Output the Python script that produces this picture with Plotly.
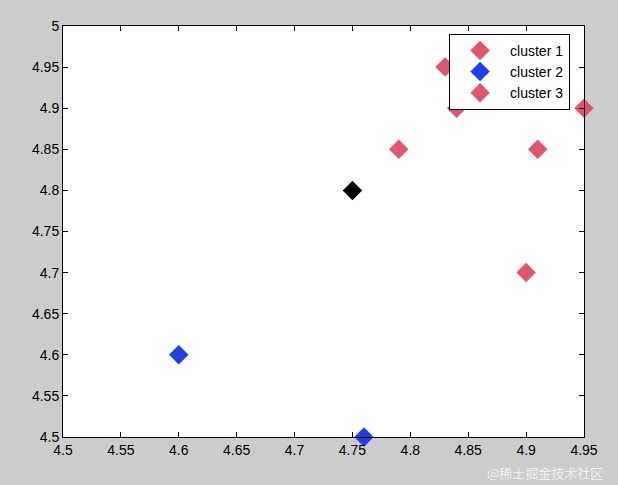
import plotly.graph_objects as go

# data
c1_x = [4.83, 4.84, 4.79]
c1_y = [4.95, 4.90, 4.85]
c2_x = [4.60, 4.76]
c2_y = [4.60, 4.50]
c3_x = [4.91, 4.90, 4.95]
c3_y = [4.85, 4.70, 4.90]
center_x = [4.75]
center_y = [4.80]
x_ticks = [4.5, 4.55, 4.6, 4.65, 4.7, 4.75, 4.8, 4.85, 4.9, 4.95]
y_ticks = [4.5, 4.55, 4.6, 4.65, 4.7, 4.75, 4.8, 4.85, 4.9, 4.95, 5]

pink = "#E0556F"
blue = "#1F3FE8"

def mk(color):
    return dict(symbol="diamond", size=15, color=color, line=dict(width=0))

fig = go.Figure()
fig.add_trace(go.Scatter(x=c1_x, y=c1_y, mode="markers", name="cluster 1", marker=mk(pink), cliponaxis=False))
fig.add_trace(go.Scatter(x=c2_x, y=c2_y, mode="markers", name="cluster 2", marker=mk(blue), cliponaxis=False))
fig.add_trace(go.Scatter(x=c3_x, y=c3_y, mode="markers", name="cluster 3", marker=mk(pink), cliponaxis=False))
fig.add_trace(go.Scatter(x=center_x, y=center_y, mode="markers", name="center", marker=mk("black"),
                         showlegend=False, cliponaxis=False))

axis_common = dict(showgrid=False, zeroline=False, showline=True, linecolor="black", linewidth=1,
                   mirror="ticks", ticks="inside", ticklen=5, tickcolor="black",
                   tickfont=dict(family="Liberation Sans, Arial", size=14, color="black"))

fig.update_layout(
    width=618, height=485,
    margin=dict(l=63, r=34, t=26, b=48),
    paper_bgcolor="#CCCCCC", plot_bgcolor="white",
    xaxis=dict(range=[4.5, 4.95], tickvals=x_ticks, ticktext=[f"{v:g}" for v in x_ticks], **axis_common),
    yaxis=dict(range=[4.5, 5.0], tickvals=y_ticks, ticktext=[f"{v:g}" for v in y_ticks], **axis_common),
    legend=dict(x=0.741, y=0.981, xanchor="left", yanchor="top", bgcolor="white",
                bordercolor="black", borderwidth=1,
                font=dict(family="Liberation Sans, Arial", size=14, color="black"),
                itemwidth=50, tracegroupgap=0),
    font=dict(family="Liberation Sans, Arial"),
    annotations=[dict(text="@稀土掘金技术社区", xref="paper", yref="paper", x=1.04, y=-0.115,
                      xanchor="right", yanchor="bottom", showarrow=False,
                      font=dict(family="Noto Sans CJK SC", size=13, color="rgba(255,255,255,0.75)"))],
)

fig.write_html("out.html", config={"displayModeBar": False},
               post_script="document.body.style.margin='0';document.body.style.padding='0';")
